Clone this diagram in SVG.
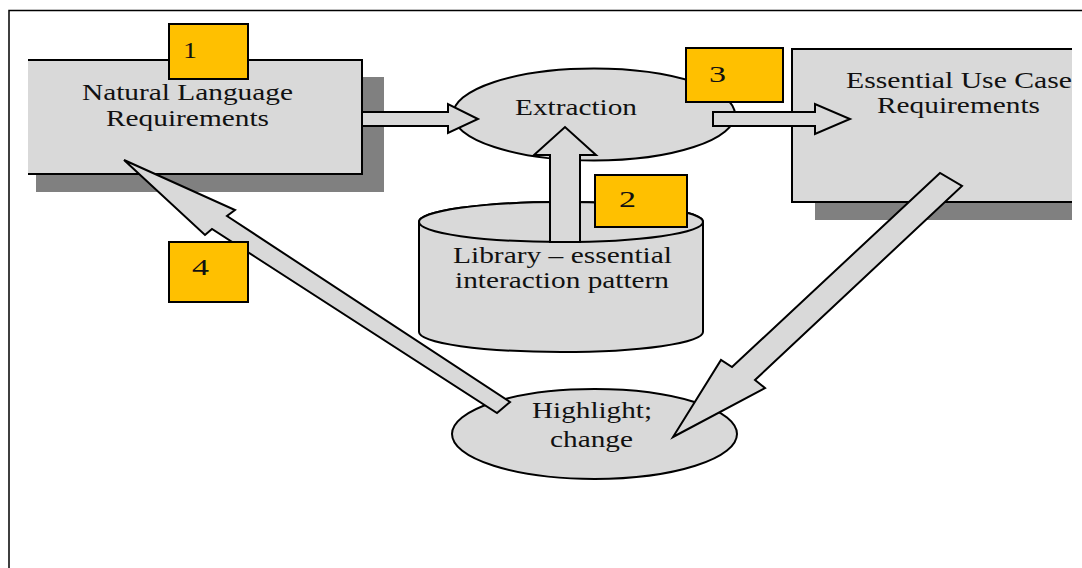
<svg xmlns="http://www.w3.org/2000/svg" width="1082" height="568" viewBox="0 0 1082 568">
<style>
.fill{fill:#D9D9D9}
.ln{fill:none;stroke:#000;stroke-width:2}
.sh{fill:#808080}
.shape{fill:#D9D9D9;stroke:#000;stroke-width:2}
.arrow{fill:#D9D9D9;stroke:#000;stroke-width:2;stroke-linejoin:miter}
.badge{fill:#FFC000;stroke:#000;stroke-width:2}
text{font-family:"Liberation Serif","Times New Roman",serif;font-size:24px;fill:#111}
</style>
<rect x="0" y="0" width="1082" height="568" fill="#fff"/>
<path d="M9,568 V10.5 H1082" fill="none" stroke="#000" stroke-width="1.5"/>

<g id="natural-language">
  <rect class="sh" x="36" y="77" width="348" height="115"/>
  <rect class="fill" x="28" y="60" width="334" height="114"/>
  <path class="ln" d="M28,60 H362 V174 H28"/>
  <text x="82" y="100" textLength="211" lengthAdjust="spacingAndGlyphs">Natural Language</text>
  <text x="106" y="126" textLength="163" lengthAdjust="spacingAndGlyphs">Requirements</text>
</g>

<g id="essential-use-case">
  <rect class="sh" x="815" y="66" width="257" height="154"/>
  <rect class="fill" x="792" y="49" width="280" height="153"/>
  <path class="ln" d="M1072,49 H792 V202 H1072"/>
  <text x="846" y="88" textLength="226" lengthAdjust="spacingAndGlyphs">Essential Use Case</text>
  <text x="877" y="113" textLength="163" lengthAdjust="spacingAndGlyphs">Requirements</text>
</g>

<g id="extraction">
  <ellipse class="shape" cx="594" cy="114.5" rx="141" ry="46"/>
  <text x="515" y="115" textLength="122" lengthAdjust="spacingAndGlyphs">Extraction</text>
</g>

<g id="highlight">
  <ellipse class="shape" cx="594.5" cy="434" rx="142.5" ry="45"/>
  <text x="532" y="418" textLength="120" lengthAdjust="spacingAndGlyphs">Highlight;</text>
  <text x="550" y="447" textLength="83" lengthAdjust="spacingAndGlyphs">change</text>
</g>

<g id="library">
  <path class="shape" d="M419,222 L419,332 A142,20 0 0 0 703,332 L703,222 A142,20 0 0 0 419,222 Z"/>
  <ellipse class="shape" cx="561" cy="222" rx="142" ry="20"/>
  <text x="453" y="263" textLength="219" lengthAdjust="spacingAndGlyphs">Library – essential</text>
  <text x="455" y="288" textLength="214" lengthAdjust="spacingAndGlyphs">interaction pattern</text>
</g>

<g id="connectors">
  <polygon class="arrow" points="362,112 448,112 448,104 478,119 448,133 448,126 362,126"/>
  <polygon class="arrow" points="713,112 815,112 815,104 850,119 815,134 815,126 713,126"/>
  <polygon class="arrow" points="550,242 550,155 534,155 565,127 596,155 580,155 580,242"/>
  <polygon class="arrow" points="510,402 227,216 235,210 124,160 205,235 212,229 497,413"/>
  <polygon class="arrow" points="940,173 732,367 721,360 673,437 765,388 755,380 962,186"/>
</g>

<g id="badge-1">
  <rect class="badge" x="169" y="24" width="79" height="55"/>
  <text x="183" y="58" textLength="14" lengthAdjust="spacingAndGlyphs">1</text>
</g>
<g id="badge-2">
  <rect class="badge" x="595" y="175" width="92" height="52"/>
  <text x="619" y="207" textLength="17" lengthAdjust="spacingAndGlyphs">2</text>
</g>
<g id="badge-3">
  <rect class="badge" x="686" y="48" width="97" height="54"/>
  <text x="709" y="82" textLength="17" lengthAdjust="spacingAndGlyphs">3</text>
</g>
<g id="badge-4">
  <rect class="badge" x="169" y="242" width="79" height="60" stroke="#222"/>
  <text x="192" y="275" textLength="17" lengthAdjust="spacingAndGlyphs">4</text>
</g>
</svg>
